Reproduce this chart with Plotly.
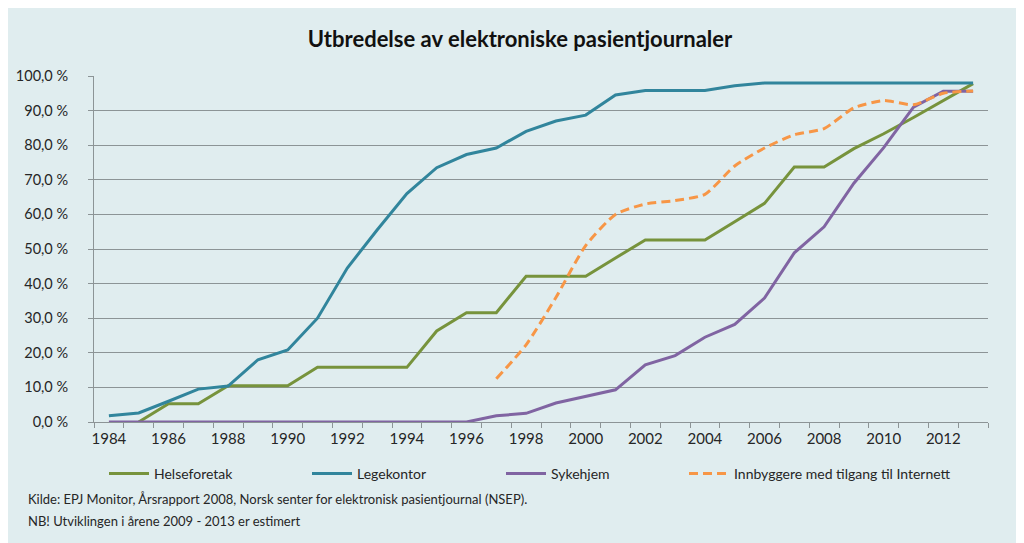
import plotly.graph_objects as go

years = list(range(1984, 2014))

helseforetak = [None, 0, 5.3, 5.3, 10.5, 10.5, 10.5, 15.8, 15.8, 15.8, 15.8, 26.3, 31.6, 31.6,
                42.1, 42.1, 42.1, 47.4, 52.6, 52.6, 52.6, 57.9, 63.2, 73.7, 73.7, 79.0, 83.3,
                88.0, 92.8, 97.8]
legekontor = [1.8, 2.6, 6.0, 9.5, 10.4, 18.0, 20.8, 30.0, 44.5, 55.5, 66.0, 73.5, 77.3, 79.2,
              84.0, 87.0, 88.7, 94.5, 95.8, 95.8, 95.8, 97.2, 98.0, 98.0, 98.0, 98.0, 98.0,
              98.0, 98.0, 98.0]
sykehjem = [0, 0, 0, 0, 0, 0, 0, 0, 0, 0, 0, 0, 0, 1.8, 2.5, 5.5, 7.5, 9.3, 16.5, 19.2, 24.5,
            28.2, 35.8, 48.9, 56.4, 69.0, 79.3, 91.0, 95.6, 95.6]
innbyggere = [None] * 13 + [12.5, 22.3, 36.0, 51.0, 60.0, 63.0, 64.0, 65.8, 74.0, 79.2, 83.0,
                             84.8, 90.8, 92.9, 91.7, 95.0, 95.7]

y_ticks = [0, 10, 20, 30, 40, 50, 60, 70, 80, 90, 100]
y_ticktext = ["0,0 %", "10,0 %", "20,0 %", "30,0 %", "40,0 %", "50,0 %", "60,0 %", "70,0 %",
              "80,0 %", "90,0 %", "100,0 %"]
x_ticks = list(range(1984, 2013, 2))

title_text = "Utbredelse av elektroniske pasientjournaler"
note1 = "Kilde: EPJ Monitor, Årsrapport 2008, Norsk senter for elektronisk pasientjournal (NSEP)."
note2 = "NB! Utviklingen i årene 2009 - 2013 er estimert"

FONT = "Lato, 'Open Sans', sans-serif"
BG = "#E0EDEF"
GRID = "#8C9496"

fig = go.Figure()
fig.add_trace(go.Scatter(x=years, y=helseforetak, name="Helseforetak", mode="lines",
                         line=dict(color="#77933C", width=3), legend="legend"))
fig.add_trace(go.Scatter(x=years, y=legekontor, name="Legekontor", mode="lines",
                         line=dict(color="#31859C", width=3), legend="legend2"))
fig.add_trace(go.Scatter(x=years, y=sykehjem, name="Sykehjem", mode="lines",
                         line=dict(color="#8064A2", width=3), legend="legend3"))
fig.add_trace(go.Scatter(x=years, y=innbyggere, name="Innbyggere med tilgang til Internett",
                         mode="lines", line=dict(color="#F79646", width=3, dash="9px,5px",
                                                 shape="spline", smoothing=0.6),
                         legend="legend4"))

L, R, T, B = 86, 44, 68, 129
W, H = 1024, 543
pw = W - L - R
ph = H - T - B


def lx(px):
    return (px - L) / pw


def ly(py):
    return (H - B - py) / ph


leg_common = dict(orientation="h", yanchor="middle", xanchor="left", y=ly(466),
                  bgcolor="rgba(0,0,0,0)", font=dict(family=FONT, size=14, color="#262626"),
                  itemwidth=40)

fig.update_layout(
    width=W, height=H,
    margin=dict(l=L, r=R, t=T, b=B, autoexpand=False),
    paper_bgcolor=BG, plot_bgcolor=BG,
    showlegend=True,
    font=dict(family=FONT, size=14, color="#262626"),
    title=dict(text="<b>" + title_text + "</b>", x=0.5, xanchor="center", y=1 - 31 / H,
               yanchor="middle", font=dict(family=FONT, size=22, color="#111111")),
    xaxis=dict(range=[1983.5, 2013.5], tickmode="array", tickvals=x_ticks,
               ticktext=[str(v) for v in x_ticks], ticks="", showgrid=False, zeroline=False,
               showline=True, linecolor=GRID, linewidth=1, ticklabelstandoff=3,
               automargin=False,
               tickfont=dict(family=FONT, size=15, color="#262626"),
               minor=dict(tick0=1983.5, dtick=1, ticks="outside", ticklen=5,
                          tickcolor=GRID, showgrid=False)),
    yaxis=dict(range=[0, 100], tickmode="array", tickvals=y_ticks, ticktext=y_ticktext,
               showgrid=True, gridcolor=GRID, gridwidth=1, zeroline=False,
               showline=True, linecolor=GRID, linewidth=1, ticks="outside", ticklen=5,
               tickcolor=GRID, ticklabelstandoff=17, automargin=False,
               tickfont=dict(family=FONT, size=14.5, color="#262626")),
    legend=dict(x=lx(96), **leg_common),
    legend2=dict(x=lx(299), **leg_common),
    legend3=dict(x=lx(493), **leg_common),
    legend4=dict(x=lx(676), **leg_common),
    annotations=[
        dict(text=note1, xref="paper", yref="paper", x=lx(18), y=ly(491),
             xanchor="left", yanchor="middle", showarrow=False,
             font=dict(family=FONT, size=13, color="#262626")),
        dict(text=note2, xref="paper", yref="paper", x=lx(18), y=ly(513),
             xanchor="left", yanchor="middle", showarrow=False,
             font=dict(family=FONT, size=13, color="#262626")),
    ],
)

fig.write_html("out.html")
